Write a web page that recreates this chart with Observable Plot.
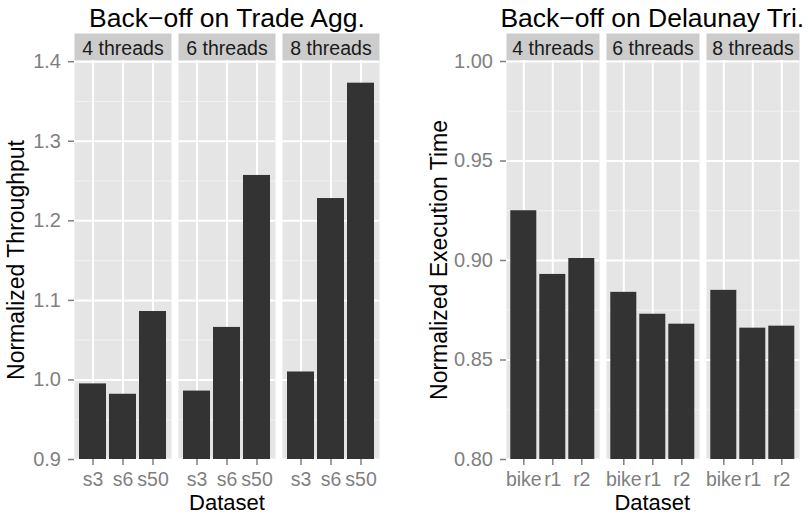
<!DOCTYPE html>
<html><head><meta charset="utf-8">
<script src="https://cdn.jsdelivr.net/npm/d3@7"></script>
<script src="https://cdn.jsdelivr.net/npm/@observablehq/plot@0.6"></script>
<style>
body{margin:0;background:#fff;font-family:"Liberation Sans",Arial,sans-serif;}
#wrap{position:relative;width:808px;height:515px;overflow:hidden;background:#fff}
.chart{position:absolute;top:0}
.title{position:absolute;top:4.6px;font-size:26.5px;line-height:1;white-space:nowrap;transform:translateX(-50%);color:#000}
.xlab{position:absolute;top:493.9px;font-size:22px;line-height:0.8;white-space:nowrap;transform:translateX(-50%);color:#000}
.ylab{position:absolute;top:259.5px;font-size:23px;line-height:1;white-space:nowrap;transform:translate(-50%,-50%) rotate(-90deg);color:#000}
</style></head><body><div id="wrap"></div>
<script>
// ---- data ----
const threads = ["4 threads", "6 threads", "8 threads"];

const tradeDatasets = ["s3", "s6", "s50"];
const trade4 = [0.995, 0.982, 1.086];
const trade6 = [0.986, 1.066, 1.257];
const trade8 = [1.010, 1.228, 1.373];
const tradeTicks = [0.9, 1.0, 1.1, 1.2, 1.3, 1.4];
const tradeMinor = [0.95, 1.05, 1.15, 1.25, 1.35];

const delaunayDatasets = ["bike", "r1", "r2"];
const delaunay4 = [0.925, 0.893, 0.901];
const delaunay6 = [0.884, 0.873, 0.868];
const delaunay8 = [0.885, 0.866, 0.867];
const delaunayTicks = [0.80, 0.85, 0.90, 0.95, 1.00];
const delaunayMinor = [0.825, 0.875, 0.925, 0.975];

function rowsOf(datasets, series) {
  const out = [];
  series.forEach((vals, i) => vals.forEach((v, j) => out.push({threads: threads[i], dataset: datasets[j], value: v})));
  return out;
}

function chart({rows, datasets, yDomain, ticks, minor, fmt, marginLeft, marginRight, fxPad}) {
  return Plot.plot({
    width: 404, height: 515,
    marginTop: 60, marginBottom: 56, marginLeft, marginRight,
    style: {fontFamily: "'Liberation Sans', Arial, sans-serif", background: "transparent", overflow: "visible"},
    fx: {domain: threads, padding: fxPad, label: null},
    x: {domain: datasets, paddingInner: 0.1, paddingOuter: 0.15, label: null},
    y: {domain: yDomain, label: null},
    marks: [
      Plot.frame({fill: "#E5E5E5"}),
      Plot.frame({fill: "#CCCCCC", insetTop: -27, insetBottom: 399}),
      Plot.gridY(minor, {stroke: "#F2F2F2", strokeOpacity: 1, strokeWidth: 1}),
      Plot.gridY(ticks, {stroke: "#FFFFFF", strokeOpacity: 1, strokeWidth: 2}),
      Plot.gridX({stroke: "#FFFFFF", strokeOpacity: 1, strokeWidth: 2}),
      Plot.barY(rows, {fx: "threads", x: "dataset", y: "value", fill: "#333333", clip: true}),
      Plot.axisY(ticks, {tickSize: 6, tickPadding: 7.5, fontSize: 20, color: "#7f7f7f", strokeWidth: 1.5, tickFormat: fmt, label: null}),
      Plot.axisX({tickSize: 6, tickPadding: 6.15, fontSize: 19.5, color: "#7f7f7f", strokeWidth: 1.5, label: null}),
      Plot.axisFx({anchor: "top", tickSize: 0, tickPadding: 5.7, fontSize: 19.5, color: "#1a1a1a", label: null})
    ]
  });
}

const wrap = document.getElementById("wrap");

const left = chart({
  rows: rowsOf(tradeDatasets, [trade4, trade6, trade8]),
  datasets: tradeDatasets, yDomain: [0.9, 1.4015], ticks: tradeTicks, minor: tradeMinor,
  fmt: d3.format(".1f"), marginLeft: 74, marginRight: 24, fxPad: 0.065
});
const right = chart({
  rows: rowsOf(delaunayDatasets, [delaunay4, delaunay6, delaunay8]),
  datasets: delaunayDatasets, yDomain: [0.8, 1.0005], ticks: delaunayTicks, minor: delaunayMinor,
  fmt: d3.format(".2f"), marginLeft: 100.7, marginRight: 8, fxPad: 0.0675
});

function place(el, x) { const d = document.createElement("div"); d.className = "chart"; d.style.left = x + "px"; d.appendChild(el); wrap.appendChild(d); }
place(left, 0);
place(right, 404);

function label(cls, text, x) { const d = document.createElement("div"); d.className = cls; d.textContent = text; d.style.left = x + "px"; wrap.appendChild(d); }
label("title", "Back\u2212off on Trade Agg.", 227);
label("title", "Back\u2212off on Delaunay Tri.", 652.3);
label("xlab", "Dataset", 227);
label("xlab", "Dataset", 652.3);
label("ylab", "Normalized Throughput", 16.2);
label("ylab", "Normalized Execution Time", 439.2);
</script></body></html>
